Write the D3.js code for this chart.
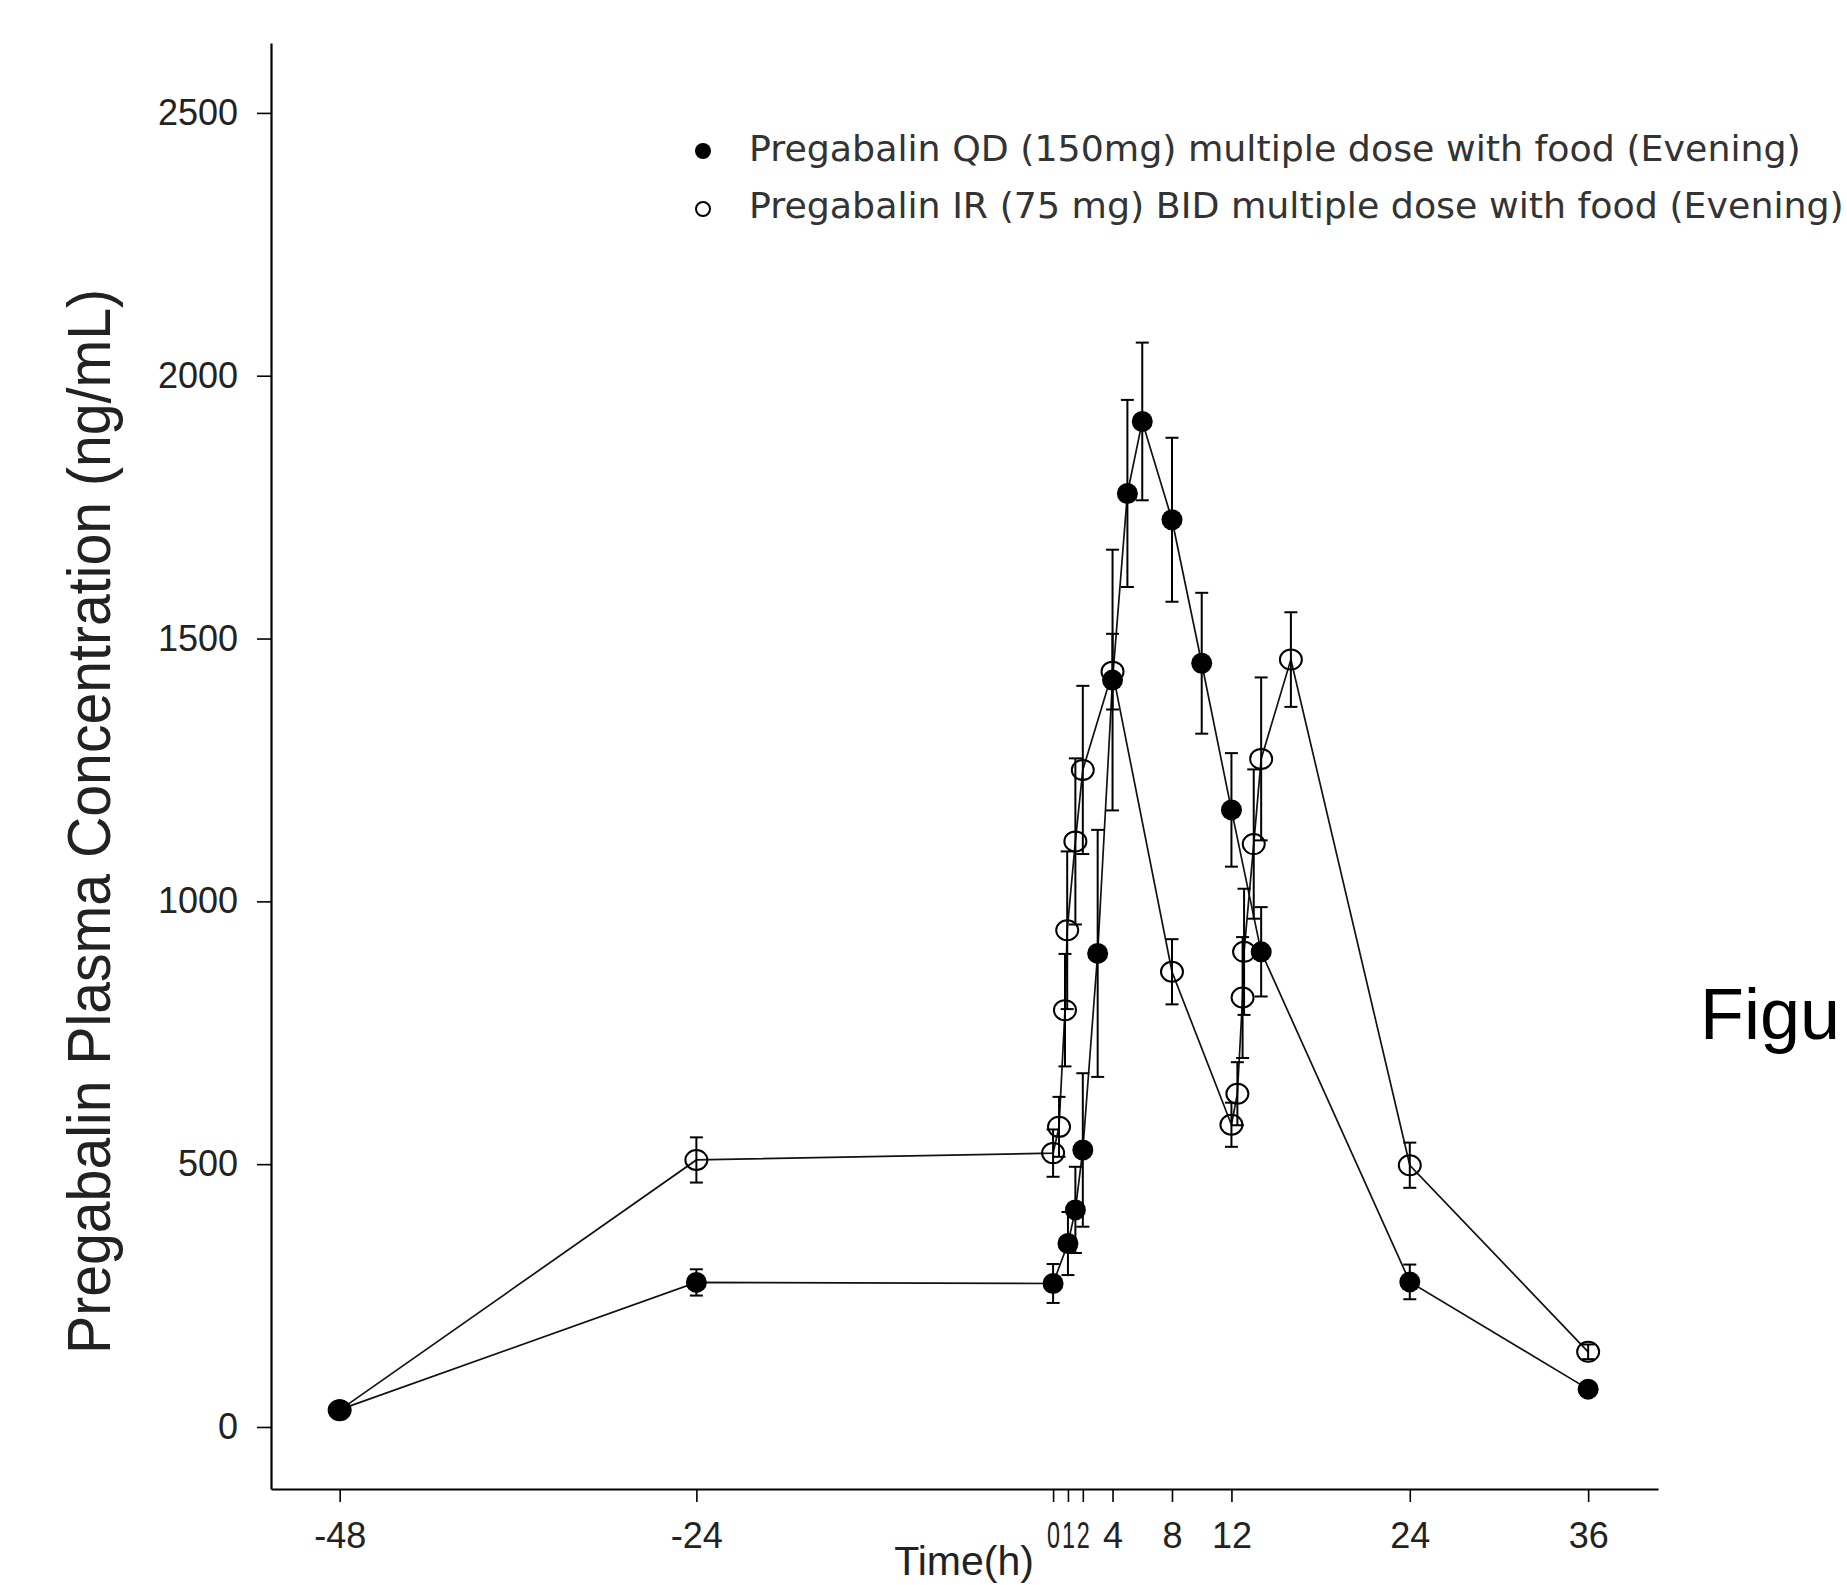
<!DOCTYPE html>
<html><head><meta charset="utf-8">
<script src="https://cdn.jsdelivr.net/npm/d3@7"></script>
<style>body{margin:0;background:#fff;} svg{display:block;}</style>
</head><body>
<svg id="chart" width="1847" height="1585"></svg>
<script>
// ---- data ----
const xTicks = [-48, -24, 0, 1, 2, 4, 8, 12, 24, 36];
const yTicks = [0, 500, 1000, 1500, 2000, 2500];

// Pregabalin QD (150 mg) – filled circles
const qdTime = [-48, -24, 0, 1, 1.5, 2, 3, 4, 5, 6, 8, 10, 12, 14, 24, 36];
const qdMean = [33, 275, 273, 349, 413, 527, 901, 1421, 1776, 1913, 1726, 1453, 1174, 904, 276, 72];
const qdSD   = [5, 25, 37, 60, 82, 146, 235, 248, 178, 150, 156, 134, 108, 85, 33, 8];

// Pregabalin IR (75 mg) BID – open circles
const irTime = [-48, -24, 0, 0.4, 0.8, 0.95, 1.5, 2, 4, 8, 12, 12.4, 12.75, 12.85, 13.5, 14, 16, 24, 36];
const irMean = [32, 508, 521, 571, 793, 945, 1114, 1250, 1437, 866, 575, 634, 817, 904, 1109, 1271, 1460, 498, 143];
const irSD   = [5, 43, 45, 57, 107, 150, 158, 160, 72, 62, 42, 60, 115, 120, 142, 155, 90, 43, 14];

const legendLabels = [
  "Pregabalin QD (150mg) multiple dose with food (Evening)",
  "Pregabalin IR (75 mg) BID multiple dose with food (Evening)"
];
const xTitle = "Time(h)";
const yTitle = "Pregabalin Plasma Concentration (ng/mL)";
const sideText = "Figu";

// ---- drawing ----
const svg = d3.select('#chart');
const x = d3.scaleLinear().domain([-52.62, 40.7]).range([271, 1658]);
const y = d3.scaleLinear().domain([-118, 2633]).range([1489, 43]);
const axisFont = '"Liberation Sans", Arial, sans-serif';

const gy = svg.append('g').attr('transform', 'translate(271,0)')
  .call(d3.axisLeft(y).tickValues(yTicks).tickSize(14).tickSizeOuter(0).tickPadding(19).tickFormat(d => d));
const gx = svg.append('g').attr('transform', 'translate(0,1489)')
  .call(d3.axisBottom(x).tickValues(xTicks).tickSize(13).tickSizeOuter(0).tickPadding(20).tickFormat(d => d));
[gx, gy].forEach(g => {
  g.attr('font-family', axisFont).attr('font-size', 36);
  g.select('.domain').attr('stroke', '#000').attr('stroke-width', 2.2);
  g.selectAll('.tick line').attr('stroke', '#000').attr('stroke-width', 1.6);
  g.selectAll('.tick text').attr('fill', '#222');
});
// the crowded 0, 1, 2 labels are drawn narrow, as in the reference
gx.selectAll('.tick text').filter(d => d >= 0 && d <= 2)
  .attr('textLength', 13).attr('lengthAdjust', 'spacingAndGlyphs');

function series(time, mean, sd) { return time.map((t, i) => ({t, m: mean[i], s: sd[i]})); }
const qd = series(qdTime, qdMean, qdSD);
const ir = series(irTime, irMean, irSD);

const line = d3.line().x(d => x(d.t)).y(d => y(d.m));
const plot = svg.append('g');
[qd, ir].forEach(data => {
  plot.append('path').datum(data).attr('d', line)
    .attr('fill', 'none').attr('stroke', '#111').attr('stroke-width', 1.7);
});

const cap = 6.5;
function errorBars(data) {
  const g = plot.append('g').attr('stroke', '#000').attr('stroke-width', 2);
  const e = g.selectAll('g').data(data).join('g');
  e.append('line').attr('x1', d => x(d.t)).attr('x2', d => x(d.t))
    .attr('y1', d => y(d.m - d.s)).attr('y2', d => y(d.m + d.s));
  e.append('line').attr('x1', d => x(d.t) - cap).attr('x2', d => x(d.t) + cap)
    .attr('y1', d => y(d.m + d.s)).attr('y2', d => y(d.m + d.s));
  e.append('line').attr('x1', d => x(d.t) - cap).attr('x2', d => x(d.t) + cap)
    .attr('y1', d => y(d.m - d.s)).attr('y2', d => y(d.m - d.s));
}
errorBars(ir);
errorBars(qd);

plot.append('g').selectAll('ellipse').data(ir).join('ellipse')
  .attr('cx', d => x(d.t)).attr('cy', d => y(d.m)).attr('rx', 11).attr('ry', 10)
  .attr('fill', 'none').attr('stroke', '#000').attr('stroke-width', 2);
plot.append('g').selectAll('circle').data(qd).join('circle')
  .attr('cx', d => x(d.t)).attr('cy', d => y(d.m)).attr('r', 10.5)
  .attr('fill', '#000');

// legend
const legFont = '"DejaVu Sans", Verdana, sans-serif';
const leg = svg.append('g');
leg.append('circle').attr('cx', 703).attr('cy', 151).attr('r', 8).attr('fill', '#000');
leg.append('circle').attr('cx', 703).attr('cy', 209).attr('r', 7).attr('fill', 'none').attr('stroke', '#000').attr('stroke-width', 2);
const lt = leg.selectAll('text').data(legendLabels).join('text')
  .attr('x', 749).attr('y', (d, i) => i === 0 ? 161 : 218)
  .attr('font-family', legFont).attr('font-size', 30).attr('fill', '#333').text(d => d);
const w0 = lt.node().getComputedTextLength();
lt.attr('font-size', 30 * 1052 / w0);

// axis titles
svg.append('text').attr('x', 964).attr('y', 1575).attr('text-anchor', 'middle')
  .attr('font-family', axisFont).attr('font-size', 41).attr('fill', '#222').text(xTitle);
svg.append('text').attr('transform', 'translate(110,821.5) rotate(-90)').attr('text-anchor', 'middle')
  .attr('font-family', axisFont).attr('font-size', 62).attr('fill', '#222')
  .attr('textLength', 1065).attr('lengthAdjust', 'spacingAndGlyphs').text(yTitle);

svg.append('text').attr('x', 1700).attr('y', 1039)
  .attr('font-family', axisFont).attr('font-size', 72).attr('fill', '#000').text(sideText);
</script></body></html>
